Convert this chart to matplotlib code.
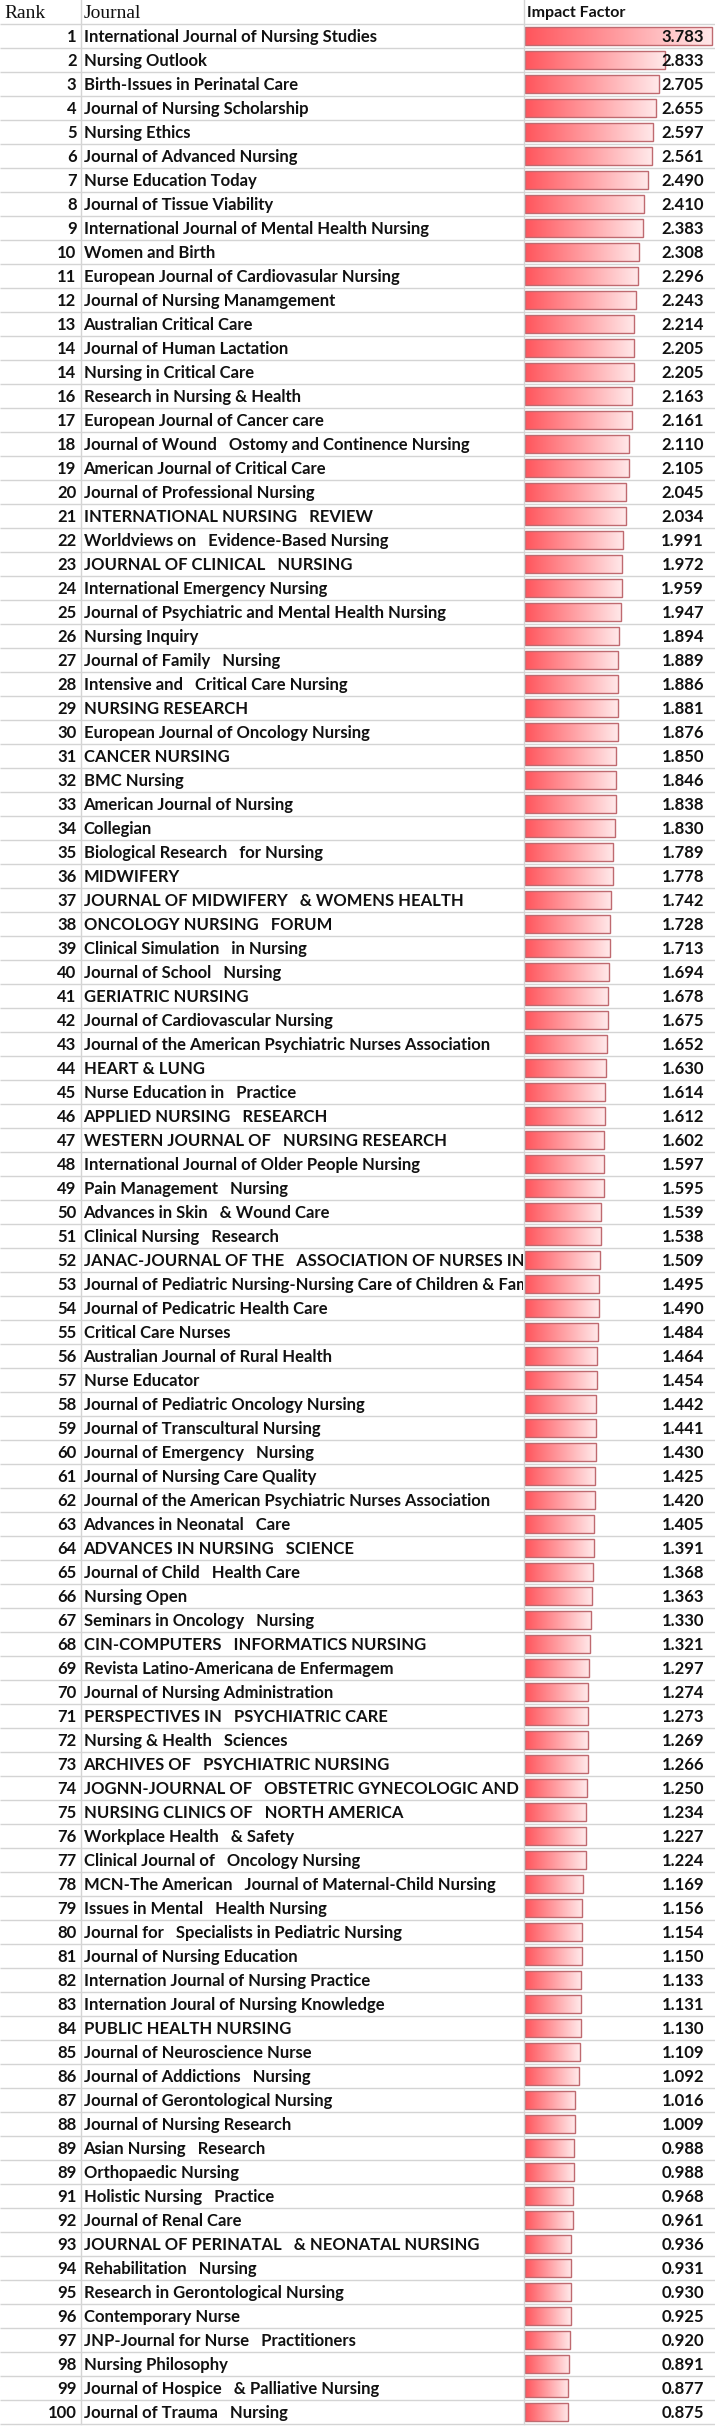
import numpy as np
import matplotlib
matplotlib.use("Agg")
import matplotlib.pyplot as plt
from matplotlib.colors import LinearSegmentedColormap
from matplotlib.transforms import Bbox, TransformedBbox

# table data
ranks = [1, 2, 3, 4, 5, 6, 7, 8, 9, 10, 11, 12, 13, 14, 14, 16, 17, 18, 19, 20,
         21, 22, 23, 24, 25, 26, 27, 28, 29, 30, 31, 32, 33, 34, 35, 36, 37, 38, 39, 40,
         41, 42, 43, 44, 45, 46, 47, 48, 49, 50, 51, 52, 53, 54, 55, 56, 57, 58, 59, 60,
         61, 62, 63, 64, 65, 66, 67, 68, 69, 70, 71, 72, 73, 74, 75, 76, 77, 78, 79, 80,
         81, 82, 83, 84, 85, 86, 87, 88, 89, 89, 91, 92, 93, 94, 95, 96, 97, 98, 99, 100]

journals = [
    "International Journal of Nursing Studies",
    "Nursing Outlook",
    "Birth-Issues in Perinatal Care",
    "Journal of Nursing Scholarship",
    "Nursing Ethics",
    "Journal of Advanced Nursing",
    "Nurse Education Today",
    "Journal of Tissue Viability",
    "International Journal of Mental Health Nursing",
    "Women and Birth",
    "European Journal of Cardiovasular Nursing",
    "Journal of Nursing Manamgement",
    "Australian Critical Care",
    "Journal of Human Lactation",
    "Nursing in Critical Care",
    "Research in Nursing & Health",
    "European Journal of Cancer care",
    "Journal of Wound   Ostomy and Continence Nursing",
    "American Journal of Critical Care",
    "Journal of Professional Nursing",
    "INTERNATIONAL NURSING   REVIEW",
    "Worldviews on   Evidence-Based Nursing",
    "JOURNAL OF CLINICAL   NURSING",
    "International Emergency Nursing",
    "Journal of Psychiatric and Mental Health Nursing",
    "Nursing Inquiry",
    "Journal of Family   Nursing",
    "Intensive and   Critical Care Nursing",
    "NURSING RESEARCH",
    "European Journal of Oncology Nursing",
    "CANCER NURSING",
    "BMC Nursing",
    "American Journal of Nursing",
    "Collegian",
    "Biological Research   for Nursing",
    "MIDWIFERY",
    "JOURNAL OF MIDWIFERY   & WOMENS HEALTH",
    "ONCOLOGY NURSING   FORUM",
    "Clinical Simulation   in Nursing",
    "Journal of School   Nursing",
    "GERIATRIC NURSING",
    "Journal of Cardiovascular Nursing",
    "Journal of the American Psychiatric Nurses Association",
    "HEART & LUNG",
    "Nurse Education in   Practice",
    "APPLIED NURSING   RESEARCH",
    "WESTERN JOURNAL OF   NURSING RESEARCH",
    "International Journal of Older People Nursing",
    "Pain Management   Nursing",
    "Advances in Skin   & Wound Care",
    "Clinical Nursing   Research",
    "JANAC-JOURNAL OF THE   ASSOCIATION OF NURSES IN AIDS CARE",
    "Journal of Pediatric Nursing-Nursing Care of Children & Families",
    "Journal of Pedicatric Health Care",
    "Critical Care Nurses",
    "Australian Journal of Rural Health",
    "Nurse Educator",
    "Journal of Pediatric Oncology Nursing",
    "Journal of Transcultural Nursing",
    "Journal of Emergency   Nursing",
    "Journal of Nursing Care Quality",
    "Journal of the American Psychiatric Nurses Association",
    "Advances in Neonatal   Care",
    "ADVANCES IN NURSING   SCIENCE",
    "Journal of Child   Health Care",
    "Nursing Open",
    "Seminars in Oncology   Nursing",
    "CIN-COMPUTERS   INFORMATICS NURSING",
    "Revista Latino-Americana de Enfermagem",
    "Journal of Nursing Administration",
    "PERSPECTIVES IN   PSYCHIATRIC CARE",
    "Nursing & Health   Sciences",
    "ARCHIVES OF   PSYCHIATRIC NURSING",
    "JOGNN-JOURNAL OF   OBSTETRIC GYNECOLOGIC AND NEONATAL NURSING",
    "NURSING CLINICS OF   NORTH AMERICA",
    "Workplace Health   & Safety",
    "Clinical Journal of   Oncology Nursing",
    "MCN-The American   Journal of Maternal-Child Nursing",
    "Issues in Mental   Health Nursing",
    "Journal for   Specialists in Pediatric Nursing",
    "Journal of Nursing Education",
    "Internation Journal of Nursing Practice",
    "Internation Joural of Nursing Knowledge",
    "PUBLIC HEALTH NURSING",
    "Journal of Neuroscience Nurse",
    "Journal of Addictions   Nursing",
    "Journal of Gerontological Nursing",
    "Journal of Nursing Research",
    "Asian Nursing   Research",
    "Orthopaedic Nursing",
    "Holistic Nursing   Practice",
    "Journal of Renal Care",
    "JOURNAL OF PERINATAL   & NEONATAL NURSING",
    "Rehabilitation   Nursing",
    "Research in Gerontological Nursing",
    "Contemporary Nurse",
    "JNP-Journal for Nurse   Practitioners",
    "Nursing Philosophy",
    "Journal of Hospice   & Palliative Nursing",
    "Journal of Trauma   Nursing",
]

impact = [3.783, 2.833, 2.705, 2.655, 2.597, 2.561, 2.490, 2.410, 2.383, 2.308,
          2.296, 2.243, 2.214, 2.205, 2.205, 2.163, 2.161, 2.110, 2.105, 2.045,
          2.034, 1.991, 1.972, 1.959, 1.947, 1.894, 1.889, 1.886, 1.881, 1.876,
          1.850, 1.846, 1.838, 1.830, 1.789, 1.778, 1.742, 1.728, 1.713, 1.694,
          1.678, 1.675, 1.652, 1.630, 1.614, 1.612, 1.602, 1.597, 1.595, 1.539,
          1.538, 1.509, 1.495, 1.490, 1.484, 1.464, 1.454, 1.442, 1.441, 1.430,
          1.425, 1.420, 1.405, 1.391, 1.368, 1.363, 1.330, 1.321, 1.297, 1.274,
          1.273, 1.269, 1.266, 1.250, 1.234, 1.227, 1.224, 1.169, 1.156, 1.154,
          1.150, 1.133, 1.131, 1.130, 1.109, 1.092, 1.016, 1.009, 0.988, 0.988,
          0.968, 0.961, 0.936, 0.931, 0.930, 0.925, 0.920, 0.891, 0.877, 0.875]

headers = ["Rank", "Journal", "Impact Factor"]

W, H = 715, 2426
head_h = 24
row_h = 24
col1 = 80.5      # rank | journal
col2 = 524       # journal | impact factor
grid_c = "#d4d4d4"
body_font = "Lato"
fs = 12

fig = plt.figure(figsize=(W / 100, H / 100), dpi=100)
fig.patch.set_facecolor("white")

# pixel axes for grid + text
ax = fig.add_axes([0, 0, 1, 1])
ax.set_xlim(0, W)
ax.set_ylim(H, 0)
ax.axis("off")

n = len(journals)
for k in range(n + 1):
    y = head_h + k * row_h
    ax.plot([0, W], [y, y], color=grid_c, lw=1, solid_capstyle="butt")
for x in [col1, col2]:
    ax.plot([x, x], [0, head_h + n * row_h], color=grid_c, lw=1)

# header
ax.text(4, head_h / 2 + 1, headers[0], family="Liberation Serif", fontsize=14,
        va="center", ha="left", color="#111111")
ax.text(col1 + 3, head_h / 2 + 1, headers[1], family="Liberation Serif", fontsize=14,
        va="center", ha="left", color="#111111")
ax.text(col2 + 3, head_h / 2 + 1, headers[2], family=body_font, fontsize=11.5,
        fontweight="bold", va="center", ha="left", color="#111111")

clip_box = TransformedBbox(Bbox([[col1, 0], [col2 - 1, H]]), ax.transData)
for i in range(n):
    yc = head_h + i * row_h + row_h / 2 + 1
    ax.text(col1 - 4, yc, str(ranks[i]), family=body_font, fontsize=fs,
            fontweight="bold", va="center", ha="right", color="#111111")
    t = ax.text(col1 + 3, yc, journals[i], family=body_font, fontsize=fs,
                fontweight="bold", va="center", ha="left", color="#111111")
    t.set_clip_path(None)
    t.set_clip_box(clip_box)
    t.set_clip_on(True)

# data bar axes
bx = fig.add_axes([(col2 + 1) / W, 1 - (head_h + n * row_h) / H,
                   (W - col2 - 1) / W, n * row_h / H])
bx.axis("off")
vmax = max(impact) * 190.5 / 187.5
bx.set_xlim(0, vmax)
bx.set_ylim(n - 0.5, -0.5)

cmap = LinearSegmentedColormap.from_list("bar", ["#ff555c", "#ff9da1", "#ffe9ea"])
grad = np.linspace(0, 1, 256).reshape(1, -1)
bh = 0.74
bars = bx.barh(np.arange(n), impact, height=bh, left=0, color="none",
               edgecolor="#bf6a70", linewidth=1.0)
for i, b in enumerate(bars):
    im = bx.imshow(grad, cmap=cmap, aspect="auto", interpolation="bilinear",
                   extent=(0, impact[i], i + bh / 2, i - bh / 2), zorder=1)
    im.set_clip_path(b)
    b.set_zorder(2)
bx.set_xlim(0, vmax)
bx.set_ylim(n - 0.5, -0.5)

# values on top
for i in range(n):
    yc = head_h + i * row_h + row_h / 2 + 1
    ax.text(704, yc, f"{impact[i]:.3f}", family=body_font, fontsize=fs,
            fontweight="bold", va="center", ha="right", color="#111111", zorder=5)
ax.set_zorder(3)
ax.patch.set_alpha(0)

fig.savefig("out.png", dpi=100, facecolor="white")
